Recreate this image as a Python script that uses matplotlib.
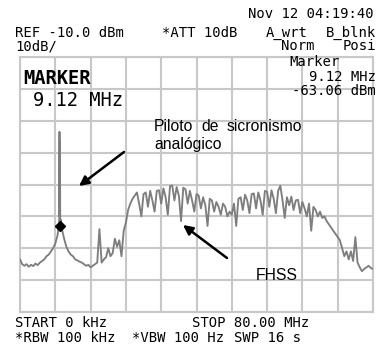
import numpy as np
import matplotlib
matplotlib.use("Agg")
import matplotlib.pyplot as plt
from matplotlib.patches import Rectangle, FancyArrowPatch

# ---------------- data ----------------
start_mhz, stop_mhz = 0.0, 80.0
ref_dbm, db_per_div, n_ydiv = -10.0, 10.0, 8

low_freq = np.arange(0.0, 8.51, 0.5)
low_dbm = [-73.5, -75, -75.5, -75, -75.8, -75.2, -75.6, -74.8, -75.3, -74.5,
           -74, -73.5, -72.5, -72, -71, -70, -68.5, -66]

pilot_freq = [8.8, 8.9, 8.95, 9.0, 9.05, 9.12, 9.2, 9.25, 9.35]
pilot_dbm = [-63, -61, -33.5, -60, -36.5, -63, -61, -62.5, -63]

high_freq = np.arange(9.5, 80.01, 0.5)
high_dbm = [
    -64, -67, -69.5, -71, -72, -72.5, -73.5, -73.8, -74.2, -74.5,
    -75, -75.5, -75.2, -76, -75.5, -75, -74.5, -64, -74.5, -73.5,
    -72.8, -70, -72.5, -71.5, -67, -69.5, -67.5, -72.5, -64.5, -62,
    -58, -56, -54.5, -53.5, -52.5, -56, -60, -53, -52.5, -57,
    -52, -55, -58.5, -52, -51.8, -56, -51.2, -54, -59.5, -50.5,
    -50.3, -55, -50.8, -53.5, -61.5, -51, -51.5, -56, -52, -55,
    -58.5, -53, -53.5, -57.5, -54, -56.5, -63, -54.5, -55, -58.5,
    -55.5, -57, -59.5, -56, -57, -60, -58.5, -59.5, -56, -63,
    -54.5, -54, -58, -53.2, -55, -59, -53, -52.8, -57.5, -52.5,
    -55, -59.5, -52, -52.3, -57, -51.8, -54.5, -59, -52, -50.4,
    -55, -60.5, -54, -56.5, -53.8, -58, -55, -54.8, -59, -55.5,
    -57.5, -60, -56, -64.5, -57, -58, -60, -58.5, -60.5, -60,
    -61.5, -62.5, -63.5, -64.5, -65.5, -66.5, -67.5, -70, -72.5, -71,
    -73.5, -71, -74, -66.5, -74.5, -76, -77.2, -76.5, -76, -75.5,
    -76.2, -76.5]

marker_mhz, marker_dbm = 9.12, -63.06

freq = np.concatenate([low_freq, pilot_freq, high_freq])
level = np.concatenate([low_dbm, pilot_dbm, high_dbm])

# ---------------- figure ----------------
W, H = 377, 345
fig = plt.figure(figsize=(W / 100, H / 100), dpi=100)
fig.patch.set_facecolor("white")

L, R, T, B = 20, 373, 57, 312
ax = fig.add_axes([L / W, 1 - B / H, (R - L) / W, (B - T) / H])
ax.set_xlim(start_mhz, stop_mhz)
ax.set_ylim(ref_dbm - n_ydiv * db_per_div, ref_dbm)
ax.set_xticks(np.linspace(start_mhz, stop_mhz, 11))
ax.set_yticks(np.arange(ref_dbm - n_ydiv * db_per_div, ref_dbm + 0.1, db_per_div))
ax.tick_params(length=0, labelbottom=False, labelleft=False)
gcol = "#c8c8c8"
ax.grid(True, color=gcol, lw=1.5, zorder=0)
for s in ax.spines.values():
    s.set_color(gcol)
    s.set_linewidth(1.5)


def fx(px):
    return (px - L) / (R - L)


def fy(py):
    return (B - py) / (B - T)


# white boxes covering grid behind annotations
for (x0, y0, x1, y1) in [(135, 105, 323, 167), (233, 255, 319, 298)]:
    ax.add_patch(Rectangle((fx(x0), fy(y1)), fx(x1) - fx(x0), fy(y0) - fy(y1),
                           transform=ax.transAxes, facecolor="white",
                           edgecolor="none", zorder=1))

ax.plot(freq, level, color="#7e7e7e", lw=1.35, zorder=3)
ax.plot([marker_mhz], [marker_dbm], marker="D", color="black", ms=5, zorder=4)

# ---------------- texts ----------------
mono = "DejaVu Sans Mono"


def t(px, py, s, ha="left", size=10, **kw):
    fig.text(px / W, 1 - py / H, s, ha=ha, va="center", fontsize=size,
             family=kw.pop("family", mono), **kw)


t(374, 14, "Nov 12 04:19:40", ha="right")
t(15, 33, "REF -10.0 dBm")
t(162, 33, "*ATT 10dB")
t(266, 33, "A_wrt")
t(376, 33, "B_blnk", ha="right")
t(15, 46, "10dB/")
t(281, 46, "Norm")
t(376, 46, "Posi", ha="right")
t(289, 62, "Marker")
t(376, 77, "9.12 MHz", ha="right")
t(376, 91, "-63.06 dBm", ha="right")
t(23, 79, "MARKER", size=13.5, weight="bold")
t(33, 101, "9.12 MHz", size=13.5)

t(15, 323, "START 0 kHz")
t(192, 323, "STOP 80.00 MHz")
t(15, 338, "*RBW 100 kHz")
t(132, 338, "*VBW 100 Hz")
t(234, 338, "SWP 16 s")

sans = "Liberation Sans"
t(154, 127, "Piloto", family=sans, size=11.3)
t(201, 127, "de", family=sans, size=11.3)
t(227, 127, "sicronismo", family=sans, size=11.3)
t(154, 145, "analógico", family=sans, size=11.3)
t(256, 275, "FHSS", family=sans, size=11.3)

# arrows
for (x0, y0, x1, y1) in [(124, 152, 79, 186), (227, 258, 183, 225)]:
    fig.patches.append(FancyArrowPatch(
        (x0 / W, 1 - y0 / H), (x1 / W, 1 - y1 / H),
        transform=fig.transFigure, arrowstyle="-|>", mutation_scale=14,
        color="black", lw=1.8, shrinkA=0, shrinkB=0))

fig.savefig("out.png", dpi=100, facecolor="white")
